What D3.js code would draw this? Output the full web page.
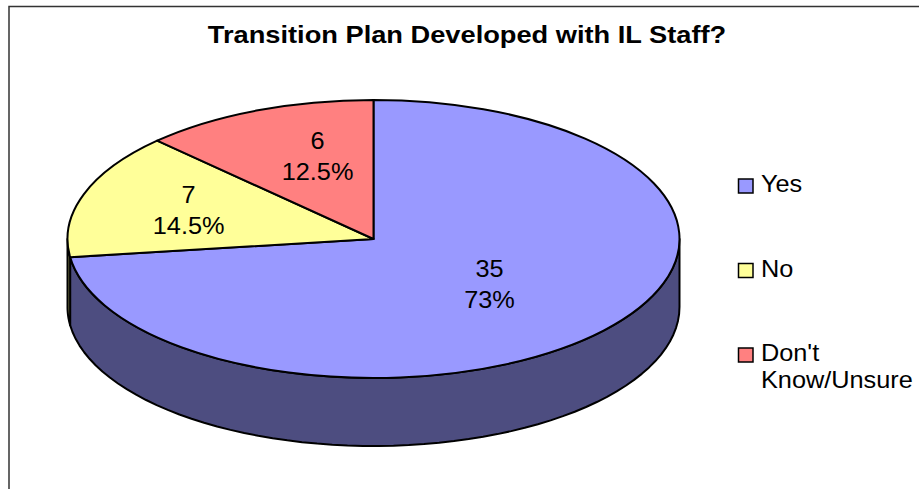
<!DOCTYPE html>
<html>
<head>
<meta charset="utf-8">
<style>
    html, body { margin: 0; padding: 0; background: #fff; overflow: hidden; }
    text { font-family: "Liberation Sans", Arial, sans-serif; fill: #000; }
</style>
</head>
<body>
    <div id="chart"></div>
    <script src="https://cdn.jsdelivr.net/npm/d3@7/dist/d3.min.js"></script>
    <script>
        var categories = ['Yes', 'No', "Don't Know/Unsure"];
        var counts = [35, 7, 6];
        var percents = ['73%', '14.5%', '12.5%'];
        var colors = ['#9999ff', '#ffff99', '#ff8080'];
        var sideColors = ['#4d4d80', '#80804d', '#804040'];
        var title = 'Transition Plan Developed with IL Staff?';

        var width = 919, height = 489;
        var cx = 373.5, cy = 239, rx = 306, ry = 139, depth = 68;

        // the picture's text is a little wider than the font
        var stretch = 'scale(1.1,1)';

        var svg = d3.select('#chart').append('svg')
            .attr('width', width)
            .attr('height', height);

        // chart frame, runs off the right and bottom of the picture
        svg.append('path')
            .attr('d', 'M9 ' + height + 'V6.5H' + width)
            .attr('fill', 'none')
            .attr('stroke', '#333')
            .attr('stroke-width', 1.5);

        svg.append('text')
            .attr('transform', 'translate(467,43) scale(1.135,1)')
            .attr('text-anchor', 'middle')
            .attr('font-size', 24)
            .attr('font-weight', 'bold')
            .text(title);

        var slices = d3.pie().sort(null)(counts);

        // circle in pie space, squashed to the tilted ellipse
        var arc = d3.arc().innerRadius(0).outerRadius(rx);

        // wall of the pie: front half of the rim, from the right edge to the left edge
        function wallPath(a0, a1) {
            var p = d3.path();
            var pts = d3.range(0, 61).map(function(i) {
                var a = a0 + (a1 - a0) * i / 60;
                return [cx + rx * Math.sin(a), cy - ry * Math.cos(a)];
            });
            pts.forEach(function(q, i) {
                if (i == 0) p.moveTo(q[0], q[1]);
                else p.lineTo(q[0], q[1]);
            });
            pts.reverse().forEach(function(q) {
                p.lineTo(q[0], q[1] + depth);
            });
            p.closePath();
            return p.toString();
        }

        var walls = svg.append('g');
        slices.forEach(function(s, i) {
            var a0 = Math.max(s.startAngle, Math.PI / 2);
            var a1 = Math.min(s.endAngle, Math.PI * 1.5);
            if (a1 <= a0) return;
            walls.append('path')
                .attr('d', wallPath(a0, a1))
                .attr('fill', sideColors[i])
                .attr('stroke', '#000')
                .attr('stroke-width', 2)
                .attr('stroke-linejoin', 'round');
        });

        var pieTop = svg.append('g')
            .attr('transform', 'translate(' + cx + ',' + cy + ') scale(1,' + (ry / rx) + ')');

        pieTop.selectAll('path')
            .data(slices)
            .enter().append('path')
            .attr('d', arc)
            .attr('fill', function(d, i) { return colors[i]; })
            .attr('stroke', '#000')
            .attr('stroke-width', 2)
            .attr('stroke-linejoin', 'round')
            .attr('vector-effect', 'non-scaling-stroke');

        // how far along the mid angle each label sits, across and down
        var labelAcross = [0.504, 0.638, 0.478];
        var labelDown = [0.579, 0.47, 0.584];
        slices.forEach(function(s, i) {
            var a = (s.startAngle + s.endAngle) / 2;
            var lx = cx + rx * labelAcross[i] * Math.sin(a);
            var ly = cy - ry * labelDown[i] * Math.cos(a);
            var t = svg.append('text')
                .attr('transform', 'translate(' + lx + ',' + ly + ') ' + stretch)
                .attr('text-anchor', 'middle')
                .attr('font-size', 23);
            t.append('tspan').attr('x', 0).attr('y', -15).text(counts[i]);
            t.append('tspan').attr('x', 0).attr('y', 16).text(percents[i]);
        });

        var legendY = d3.scalePoint()
            .domain(categories)
            .range([186, 355]);

        var legend = svg.selectAll('g.legend')
            .data(categories)
            .enter().append('g')
            .attr('class', 'legend')
            .attr('transform', function(d) { return 'translate(738,' + legendY(d) + ')'; });

        legend.append('rect')
            .attr('x', 0.5)
            .attr('y', -7)
            .attr('width', 14.5)
            .attr('height', 14)
            .attr('fill', function(d, i) { return colors[i]; })
            .attr('stroke', '#000')
            .attr('stroke-width', 1.5);

        legend.each(function(d) {
            var parts = d == "Don't Know/Unsure" ? ["Don't", 'Know/Unsure'] : [d];
            var t = d3.select(this).append('text')
                .attr('transform', 'translate(23,0) ' + stretch)
                .attr('font-size', 23);
            parts.forEach(function(line, j) {
                t.append('tspan').attr('x', 0).attr('y', 6 + j * 27).text(line);
            });
        });
    </script>
</body>
</html>
